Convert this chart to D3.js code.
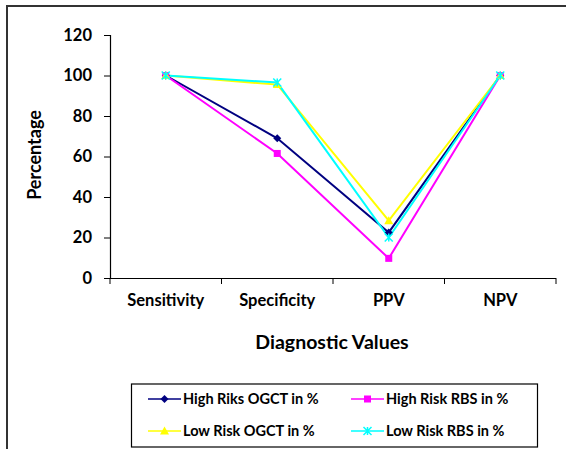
<!DOCTYPE html>
<html><head><meta charset="utf-8">
<script src="https://cdnjs.cloudflare.com/ajax/libs/d3/7.8.5/d3.min.js"></script>
<style>body{margin:0;background:#fff;} svg{display:block;font-family:Lato,"Open Sans",sans-serif;}</style>
</head><body>
<svg id="c" width="566" height="449"></svg>
<script>
const categories = ["Sensitivity", "Specificity", "PPV", "NPV"];
const highRiskOGCT = [100, 69, 22.5, 100];
const highRiskRBS = [100, 61.5, 9.7, 100];
const lowRiskOGCT = [100, 95.5, 28.3, 100];
const lowRiskRBS = [100, 96.5, 20, 100];
const yTicks = [0, 20, 40, 60, 80, 100, 120];
const seriesNames = ["High Riks OGCT in %", "High Risk RBS in %", "Low Risk OGCT in %", "Low Risk RBS in %"];

const series = [
  {name: seriesNames[0], values: highRiskOGCT, color: "#000080", marker: "diamond"},
  {name: seriesNames[1], values: highRiskRBS, color: "#FF00FF", marker: "square"},
  {name: seriesNames[2], values: lowRiskOGCT, color: "#FFFF00", marker: "triangle"},
  {name: seriesNames[3], values: lowRiskRBS, color: "#00FFFF", marker: "x"}
];

const svg = d3.select("#c");
svg.append("path").attr("d", "M7,449 V6 H566").attr("fill", "none").attr("stroke", "#333").attr("stroke-width", 2);

const x = d3.scaleBand().domain(categories).range([110, 556]).paddingInner(0).paddingOuter(0);
const y = d3.scaleLinear().domain([0, 120]).range([278, 35]);

const yAxis = svg.append("g").attr("transform", "translate(110,0)")
  .call(d3.axisLeft(y).tickValues(yTicks).tickSize(6).tickPadding(12));
const xAxis = svg.append("g").attr("transform", "translate(0,278)")
  .call(d3.axisBottom(x).tickSize(0).tickPadding(16));
const bounds = categories.map(c => x(c)).concat([x(categories[3]) + x.bandwidth()]);
xAxis.selectAll(".bt").data(bounds).enter().append("line")
  .attr("x1", d => d).attr("x2", d => d).attr("y1", 0).attr("y2", 6).attr("stroke", "#000");
[yAxis, xAxis].forEach(a => {
  a.select(".domain").attr("stroke", "#000").attr("stroke-width", 1.2);
  a.selectAll(".tick line").attr("stroke", "#000");
  a.selectAll("text").attr("font-size", 16.5).attr("font-weight", 700).attr("fill", "#000").attr("font-family", "Lato, sans-serif");
});
xAxis.select(".domain").attr("d", "M110,0.5H556");

const cx = c => x(c) + x.bandwidth() / 2;
const line = d3.line().x((d, i) => cx(categories[i])).y(d => y(d));

function marker(g, type, color, px, py) {
  if (type === "diamond") {
    g.append("path").attr("d", `M${px},${py-4}L${px+4},${py}L${px},${py+4}L${px-4},${py}Z`).attr("fill", color);
  } else if (type === "square") {
    g.append("rect").attr("x", px-3.5).attr("y", py-3.5).attr("width", 7).attr("height", 7).attr("fill", color);
  } else if (type === "triangle") {
    g.append("path").attr("d", `M${px},${py-4.5}L${px+4.5},${py+3.5}L${px-4.5},${py+3.5}Z`).attr("fill", color);
  } else {
    g.append("path").attr("d", `M${px-4},${py-4}L${px+4},${py+4}M${px+4},${py-4}L${px-4},${py+4}M${px},${py-4}V${py+4}`)
      .attr("stroke", color).attr("stroke-width", 1.5);
  }
}

const plot = svg.append("g");
series.forEach(s => {
  plot.append("path").datum(s.values).attr("d", line).attr("fill", "none")
    .attr("stroke", s.color).attr("stroke-width", 2);
});
series.forEach(s => {
  const g = plot.append("g");
  s.values.forEach((v, i) => marker(g, s.marker, s.color, cx(categories[i]), y(v)));
});

svg.append("text").attr("x", 332).attr("y", 349).attr("text-anchor", "middle")
  .attr("font-size", 19.5).attr("font-weight", 700).text("Diagnostic Values");
svg.append("text").attr("transform", "translate(41,155) rotate(-90)").attr("text-anchor", "middle")
  .attr("font-size", 18).attr("font-weight", 700).text("Percentage");

const lg = svg.append("g");
lg.append("rect").attr("x", 131.5).attr("y", 384).attr("width", 406).attr("height", 63)
  .attr("fill", "#fff").attr("stroke", "#000").attr("stroke-width", 1.2);
const pos = [[148, 399], [351, 399], [148, 431], [351, 431]];
series.forEach((s, i) => {
  const [lx, ly] = pos[i];
  lg.append("line").attr("x1", lx).attr("x2", lx + 33).attr("y1", ly).attr("y2", ly)
    .attr("stroke", s.color).attr("stroke-width", 1.5);
  marker(lg, s.marker, s.color, lx + 16.5, ly);
  lg.append("text").attr("x", lx + 35).attr("y", ly).attr("dy", "0.35em")
    .attr("font-size", 14.5).attr("font-weight", 700).text(s.name);
});
</script>
</body></html>
